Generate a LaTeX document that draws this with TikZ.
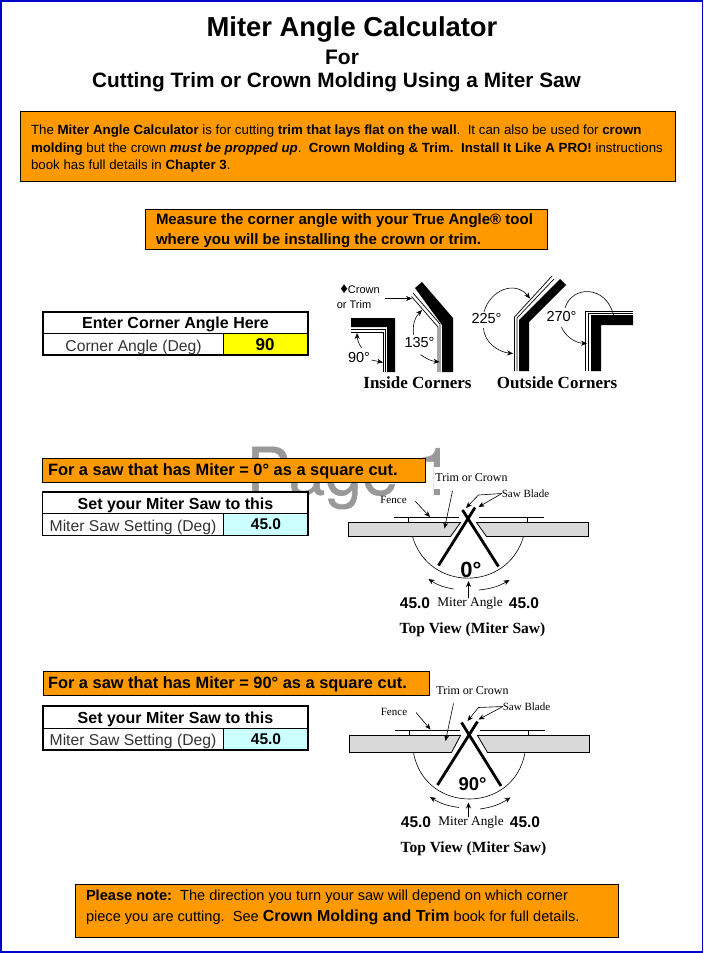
\documentclass[tikz,border=0pt]{standalone}
\usepackage{fontspec}
\usetikzlibrary{arrows.meta}
\setmainfont{Liberation Sans}
\newfontfamily\seriffont{Liberation Serif}
\newfontfamily\markfont[FakeBold=0.6]{TeX Gyre Heros}
\definecolor{boxorange}{HTML}{FF9900}
\definecolor{pageblue}{HTML}{0000CC}
\definecolor{cellyellow}{HTML}{FFFF00}
\definecolor{cellcyan}{HTML}{CCFFFF}
\definecolor{sawgray}{HTML}{D9D9D9}
\newcommand{\fs}[1]{\fontsize{#1}{#1}\selectfont}
\tikzset{
	every node/.style={inner sep=0pt,outer sep=0pt},
	orangebox/.style={draw=black,fill=boxorange,line width=0.8pt},
	tablebox/.style={draw=black,fill=white,line width=1.8pt},
	tablerule/.style={line width=0.8pt},
	leftline/.style={anchor=base west,align=left},
	tabletitle/.style={font=\fs{16}\bfseries},
	tablecell/.style={font=\fs{15.7},text=black!80},
	tablevalue/.style={font=\fs{15.5}\bfseries},
	smallserif/.style={font=\seriffont\fs{11}},
	mitertext/.style={font=\seriffont\fs{13.3}},
	caption/.style={font=\seriffont\fs{17}\bfseries},
	sawcaption/.style={font=\seriffont\fs{15.5}\bfseries},
	anglevalue/.style={font=\fs{15.5}\bfseries},
	cornerlabel/.style={font=\fs{14.5}},
	leader/.style={-{Stealth[length=6pt,width=5pt]},line width=0.6pt},
	blade/.style={line width=2.8pt},
	molding/.style={line width=0.7pt},
	table/.style={draw=black,fill=sawgray,line width=0.8pt},
}
\begin{document}
\begin{tikzpicture}[x=1pt,y=-1pt]
	\useasboundingbox (0,0) rectangle (704,953);
	\draw[pageblue,line width=1.5pt,fill=white] (1,1) rectangle (702.7,951.8);
	% watermark
	\node[text=black!40,font=\markfont\fs{66}] (watermark) at (350,478) {Page 1};
	% heading
	\node[font=\fs{27.4}\bfseries] (title) at (352,29) {Miter Angle Calculator};
	\node[font=\fs{21}\bfseries] (titlefor) at (342,57) {For};
	\node[font=\fs{20.8}\bfseries] (titlecut) at (336.5,82) {Cutting Trim or Crown Molding Using a Miter Saw};
	% intro
	\draw[orangebox] (20,111) rectangle (675,181);
	\node[leftline,font=\fontsize{13.3}{17.5}\selectfont] (intro) at (31,169.5) {The \textbf{Miter Angle Calculator} is for cutting \textbf{trim that lays flat on the wall}.\ \ It can also be used for \textbf{crown}\\ \textbf{molding} but the crown \textbf{\itshape must be propped up}.\ \ \textbf{Crown Molding \& Trim.\ \ Install It Like A PRO!} instructions\\ book has full details in \textbf{Chapter 3}.};
	\draw[orangebox] (145,209) rectangle (547,249);
	\node[leftline,font=\fontsize{15}{20}\selectfont\bfseries] (measure) at (156,244) {Measure the corner angle with your True Angle® tool\\ where you will be installing the crown or trim.};
	% corner angle table
	\draw[tablebox] (43,312) rectangle (308,355);
	\fill[cellyellow] (223,333) rectangle (308,355);
	\draw[tablerule] (43,333)--(308,333);
	\draw[tablerule] (223,333)--(223,355);
	\draw[line width=1.8pt] (43,312) rectangle (308,355);
	\node[tabletitle] (cornertitle) at (175.5,324.5) {Enter Corner Angle Here};
	\node[tablecell] (cornercell) at (133.5,347) {Corner Angle (Deg)};
	\node[tablevalue,font=\fs{17}\bfseries] (cornervalue) at (265,344.5) {90};
	% inside corner 90
	\fill (351,318)--(395,318)--(395,372)--(387,372)--(387,327)--(351,327)--cycle;
	\draw[molding] (351,329)--(385,329)--(385,372);
	\draw[molding] (351,332)--(383,332)--(383,372);
	% inside corner 135
	\fill (415,288)--(422,282)--(453,318)--(453,372)--(442,372)--(442,325)--cycle;
	\draw[molding] (413,293)--(440,324)--(440,372);
	\draw[molding] (411.5,296.5)--(438,327)--(438,372);
	% outside corner 225
	\fill (560,279)--(566,285)--(529,322)--(529,371)--(519,371)--(519,320)--cycle;
	\draw[molding] (552,276)--(514.5,317)--(514.5,371);
	\draw[molding] (554,279)--(517,318)--(517,371);
	% outside corner 270
	\fill (591,315)--(633,315)--(633,325)--(601,325)--(601,371)--(591,371)--cycle;
	\draw[molding] (633,311)--(585.5,311)--(585.5,371);
	\draw[molding] (633,313)--(588,313)--(588,371);
	% corner labels
	\node[font=\fs{11}] (crownlabel) at (360,289) {{\fs{15}♦}Crown};
	\node[font=\fs{11}] (trimlabel) at (354,305) {or Trim};
	\node[cornerlabel] (angleA) at (359,358) {90°};
	\node[cornerlabel] (angleB) at (419.5,342.5) {135°};
	\node[cornerlabel] (angleC) at (486.5,318.5) {225°};
	\node[cornerlabel] (angleD) at (561.5,316.5) {270°};
	\coordinate (crowntip) at (412,298.5);
	\coordinate (crowntail) at (385,298.5);
	\draw[leader] (crowntail)--(crowntip);
	\coordinate (tipAa) at (357,333);
	\coordinate (tipAb) at (383,362.5);
	\coordinate (tipBa) at (422,310);
	\coordinate (tipBb) at (439.5,362);
	\coordinate (tipCa) at (530,298.5);
	\coordinate (tipCb) at (513,353.5);
	\coordinate (tipDa) at (613.5,315);
	\coordinate (tipDb) at (587,343.5);
	\draw[leader] (361.5,348) to[bend left=15] (tipAa);
	\draw[leader] (371.5,360)--(tipAb);
	\draw[leader] (413.5,334.5) to[bend left=25] (tipBa);
	\draw[leader] (420.5,354.5) to[bend right=15] (tipBb);
	\draw[leader] (484,312) .. controls (490,290) and (515,280) .. (tipCa);
	\draw[leader] (483.5,328) .. controls (484,342) and (498,352) .. (tipCb);
	\draw[line width=0.6pt] (565,308) .. controls (572,285) and (606,285) .. (tipDa);
	\draw[leader] (561.5,327) .. controls (565,336) and (575,343) .. (tipDb);
	\node[caption] (insidecaption) at (417.5,383) {Inside Corners};
	\node[caption] (outsidecaption) at (557,383) {Outside Corners};
	% first saw
	\draw[orangebox] (42.5,458.5) rectangle (425,482.5);
	\node[anchor=base west,font=\fs{16.4}\bfseries] (sawAnote) at (48,475.5) {For a saw that has Miter = 0° as a square cut.};
	\draw[tablebox] (42.5,492) rectangle (308,535.5);
	\fill[cellcyan] (223,513.5) rectangle (308,535.5);
	\draw[tablerule] (42.5,513.5)--(308,513.5);
	\draw[tablerule] (223,513.5)--(223,535.5);
	\draw[line width=1.8pt] (42.5,492) rectangle (308,535.5);
	\node[tabletitle] (sawAtitle) at (175.5,505) {Set your Miter Saw to this};
	\node[tablecell] (sawAcell) at (133,527.5) {Miter Saw Setting (Deg)};
	\node[tablevalue] (sawAvalue) at (266,524.5) {45.0};
	\draw[table] (348.5,522.5)--(460.5,522.5)--(450.5,536.5)--(348.5,536.5)--cycle;
	\draw[table] (476.5,522.5)--(588.5,522.5)--(588.5,536.5)--(486.5,536.5)--cycle;
	\draw[line width=0.7pt] (394,517.5)--(458.5,517.5) (408.5,517.5)--(408.5,522.5);
	\draw[line width=0.7pt] (479,517.5)--(543.5,517.5) (527.5,517.5)--(527.5,522.5);
	\draw[line width=0.6pt] (412.5,536.5) .. controls (428.5,592) and (507.5,592) .. (523.5,536.5);
	\draw[blade] (438.5,565.5)--(475,507.5);
	\draw[blade] (498.5,566.5)--(462.5,510);
	\node[smallserif,font=\seriffont\fs{12},fill=white,inner xsep=1pt,inner ysep=7pt] (sawAtrim) at (471.5,478) {Trim or Crown};
	\node[smallserif] (sawAblade) at (525.5,493.5) {Saw Blade};
	\node[smallserif] (sawAfence) at (393.5,499.5) {Fence};
	\coordinate (sawAbend) at (478.5,495);
	\coordinate (sawAbladetipa) at (466,508);
	\coordinate (sawAbladetipb) at (478.5,507);
	\coordinate (sawAfencetip) at (430,517);
	\coordinate (sawAtrimtip) at (444.5,528.5);
	\coordinate (sawAfencetail) at (415,501);
	\coordinate (sawAtrimtail) at (452.5,491);
	\draw[leader] (sawAblade.west)--(sawAbend)--(sawAbladetipa);
	\draw[leader] (sawAblade.west)--(sawAbladetipb);
	\draw[leader] (sawAfencetail)--(sawAfencetip);
	\draw[leader] (sawAtrimtail)--(sawAtrimtip);
	\node[font=\fs{22}\bfseries] (sawAangle) at (471,569.5) {0°};
	\node[anglevalue] (sawAleft) at (415,603) {45.0};
	\node[mitertext] (sawAmiter) at (470,603.5) {Miter Angle};
	\node[anglevalue] (sawAright) at (524,603) {45.0};
	\node[sawcaption] (sawAcaption) at (472.5,629.5) {Top View (Miter Saw)};
	\coordinate (sawAarrowa) at (428.5,579);
	\coordinate (sawAarrowb) at (509.5,580);
	\coordinate (sawAarrowc) at (468.5,581);
	\draw[leader] (453.5,589) to[bend left=12] (sawAarrowa);
	\draw[leader] (479,590) to[bend right=12] (sawAarrowb);
	\draw[leader] (468.5,598)--(sawAarrowc);
	% second saw
	\draw[orangebox] (43,671) rectangle (429,695);
	\node[anchor=base west,font=\fs{16.4}\bfseries] (sawBnote) at (48,688) {For a saw that has Miter = 90° as a square cut.};
	\draw[tablebox] (43,706) rectangle (308,750);
	\fill[cellcyan] (223,728) rectangle (308,750);
	\draw[tablerule] (43,728)--(308,728);
	\draw[tablerule] (223,728)--(223,750);
	\draw[line width=1.8pt] (43,706) rectangle (308,750);
	\node[tabletitle] (sawBtitle) at (175.5,719) {Set your Miter Saw to this};
	\node[tablecell] (sawBcell) at (133,741.5) {Miter Saw Setting (Deg)};
	\node[tablevalue] (sawBvalue) at (266,739) {45.0};
	\draw[table] (349.5,735.5)--(460.5,735.5)--(451.5,752.5)--(349.5,752.5)--cycle;
	\draw[table] (477.5,735.5)--(589.5,735.5)--(589.5,752.5)--(487.5,752.5)--cycle;
	\draw[line width=0.7pt] (395,730.5)--(459.5,730.5) (409.5,730.5)--(409.5,735.5);
	\draw[line width=0.7pt] (479.5,730.5)--(544.5,730.5) (528.5,730.5)--(528.5,735.5);
	\draw[line width=0.6pt] (413.5,752.5) .. controls (424.5,814.5) and (514,814.5) .. (525,752.5);
	\draw[blade] (437.5,785)--(477.5,721.5);
	\draw[blade] (501,786)--(461.5,722.5);
	\node[smallserif,font=\seriffont\fs{12}] (sawBtrim) at (472.5,691) {Trim or Crown};
	\node[smallserif] (sawBblade) at (526.5,706.5) {Saw Blade};
	\node[smallserif] (sawBfence) at (394,711.5) {Fence};
	\coordinate (sawBbend) at (478.5,707.5);
	\coordinate (sawBbladetipa) at (467.5,721);
	\coordinate (sawBbladetipb) at (478.5,719.5);
	\coordinate (sawBfencetip) at (430.5,729.5);
	\coordinate (sawBtrimtip) at (445.5,741);
	\coordinate (sawBfencetail) at (416,712.5);
	\coordinate (sawBtrimtail) at (453.5,703.5);
	\draw[leader] (sawBblade.west)--(sawBbend)--(sawBbladetipa);
	\draw[leader] (sawBblade.west)--(sawBbladetipb);
	\draw[leader] (sawBfencetail)--(sawBfencetip);
	\draw[leader] (sawBtrimtail)--(sawBtrimtip);
	\node[font=\fs{18.5}\bfseries] (sawBangle) at (472.5,784) {90°};
	\node[anglevalue] (sawBleft) at (416,822) {45.0};
	\node[mitertext] (sawBmiter) at (471,822.5) {Miter Angle};
	\node[anglevalue] (sawBright) at (525,822.5) {45.0};
	\node[sawcaption] (sawBcaption) at (473.5,849) {Top View (Miter Saw)};
	\coordinate (sawBarrowa) at (430,797);
	\coordinate (sawBarrowb) at (510.5,797.5);
	\coordinate (sawBarrowc) at (468.5,802.5);
	\draw[leader] (459,807.5) to[bend left=12] (sawBarrowa);
	\draw[leader] (480,809) to[bend right=12] (sawBarrowb);
	\draw[leader] (468.5,816.5)--(sawBarrowc);
	% closing note
	\draw[orangebox] (75,884) rectangle (618,937);
	\node[leftline,font=\fontsize{14.6}{21}\selectfont] (closing) at (86,921) {\textbf{Please note:}\ \ The direction you turn your saw will depend on which corner\\ piece you are cutting.\ \ See {\fontsize{16}{21}\selectfont\textbf{Crown Molding and Trim}} book for full details.};
\end{tikzpicture}
\end{document}
